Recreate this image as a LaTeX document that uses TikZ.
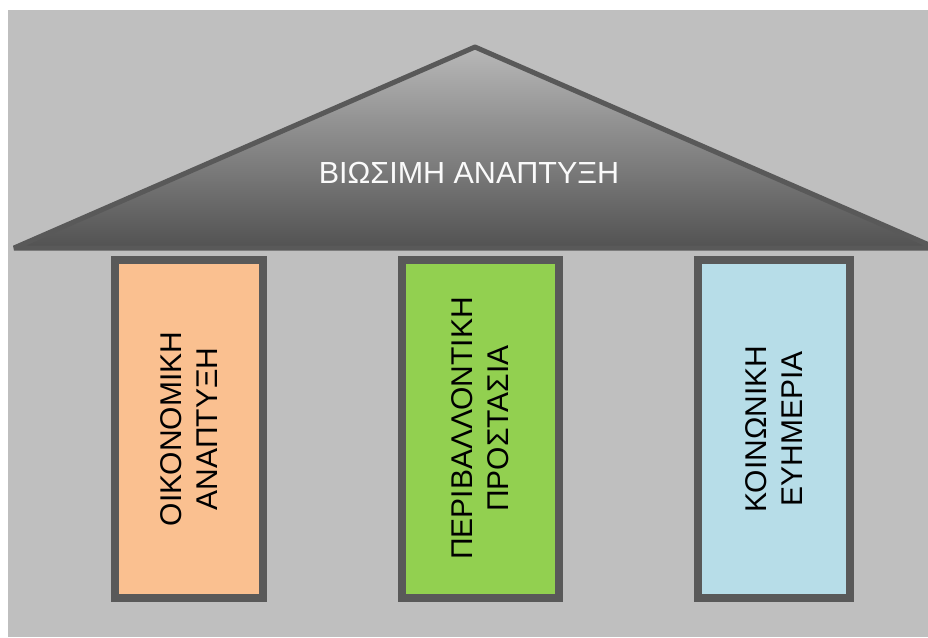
\documentclass[tikz,border=0pt]{standalone}
\usepackage{fontspec}
\setmainfont{Liberation Sans}
\definecolor{bggray}{HTML}{BFBFBF}
\definecolor{edgegray}{HTML}{595959}
\definecolor{roofdark}{HTML}{525252}
\definecolor{roofmid}{HTML}{7E7E7E}
\definecolor{rooflight}{HTML}{B8B8B8}
\definecolor{pilorange}{HTML}{FAC090}
\definecolor{pilgreen}{HTML}{92D050}
\definecolor{pilblue}{HTML}{B7DDE8}
\begin{document}
\begin{tikzpicture}[x=1pt,y=-1pt,
  pillar/.style={draw=edgegray, line width=8pt, rotate=90, minimum width=338pt,
    align=center, inner sep=0pt, font=\fontsize{30}{36}\selectfont, text=black},
  titletext/.style={text=white!96!gray, font=\fontsize{30.5}{34}\selectfont, inner sep=0pt}]
  \useasboundingbox (0,0) rectangle (928,637);
  \fill[white] (0,0) rectangle (928,637);
  \fill[bggray] (8,10) rectangle (928,637);
  \begin{scope}
    \clip (0,0) rectangle (928,637);
    \shade[top color=rooflight, middle color=roofmid, bottom color=roofdark] (14,248) -- (475,47) -- (936,248) -- cycle;
    \draw[edgegray, line width=5pt, line join=bevel] (14,248) -- (475,47) -- (936,248) -- cycle;
  \end{scope}
  \node[titletext] (title) at (469,173) {ΒΙΩΣΙΜΗ ΑΝΑΠΤΥΞΗ};
  \node[pillar, fill=pilorange, minimum height=148pt] (p1) at (189,429) {ΟΙΚΟΝΟΜΙΚΗ\\ΑΝΑΠΤΥΞΗ};
  \node[pillar, fill=pilgreen, minimum height=157pt] (p2) at (480.5,428.5) {ΠΕΡΙΒΑΛΛΟΝΤΙΚΗ\\ΠΡΟΣΤΑΣΙΑ};
  \node[pillar, fill=pilblue, minimum height=152pt] (p3) at (774,429) {ΚΟΙΝΩΝΙΚΗ\\ΕΥΗΜΕΡΙΑ};
\end{tikzpicture}
\end{document}
